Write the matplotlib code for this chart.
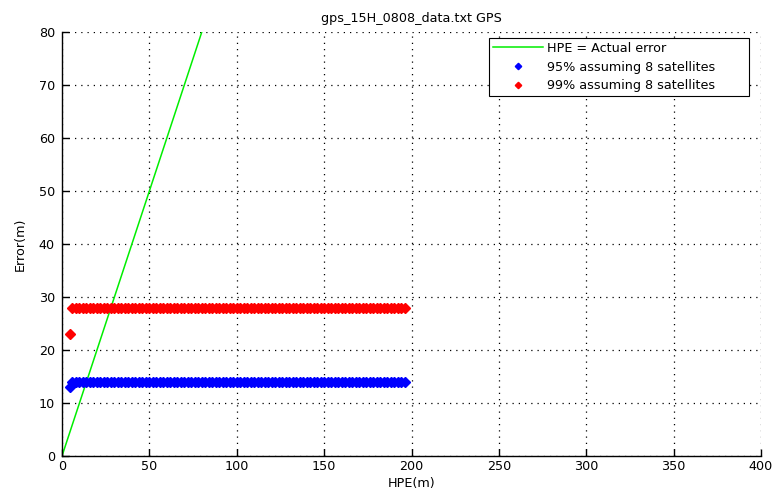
import matplotlib
matplotlib.use("Agg")
import matplotlib.pyplot as plt

plt.rcParams['font.family'] = ['DejaVu Sans']

title = "gps_15H_0808_data.txt GPS"
xlabel = "HPE(m)"
ylabel = "Error(m)"

line_x = [0, 80]
line_y = [0, 80]

hpe = [6, 8, 10, 12, 14, 16, 18, 20, 22, 24, 26, 28, 30, 32, 34, 36, 38, 40,
       42, 44, 46, 48, 50, 52, 54, 56, 58, 60, 62, 64, 66, 68, 70, 72, 74, 76,
       78, 80, 82, 84, 86, 88, 90, 92, 94, 96, 98, 100, 102, 104, 106, 108,
       110, 112, 114, 116, 118, 120, 122, 124, 126, 128, 130, 132, 134, 136,
       138, 140, 142, 144, 146, 148, 150, 152, 154, 156, 158, 160, 162, 164,
       166, 168, 170, 172, 174, 176, 178, 180, 182, 184, 186, 188, 190, 192,
       194, 196]
err95 = [14] * len(hpe)
err99 = [28] * len(hpe)
hpe_first = [4.5]
err95_first = [13]
err99_first = [23]

FS = 9.2

fig = plt.figure(figsize=(7.76, 4.95), dpi=100)
ax = fig.add_axes([0.0799, 0.0788, 0.9008, 0.8566])

ax.plot(line_x, line_y, color='#00ee00', lw=1.1, label='HPE = Actual error')
ax.plot(hpe_first + hpe, err95_first + err95, ls='none', marker='D', ms=5,
        color='#0000ff', mec='#0000ff', label='95% assuming 8 satellites')
ax.plot(hpe_first + hpe, err99_first + err99, ls='none', marker='D', ms=5,
        color='#ff0000', mec='#ff0000', label='99% assuming 8 satellites')

ax.set_xlim(0, 400)
ax.set_ylim(0, 80)
ax.set_xticks(range(0, 401, 50))
ax.set_yticks(range(0, 81, 10))
ax.grid(True, color='black', ls=(0, (1, 4)), lw=0.9)
ax.tick_params(direction='in', length=5, width=1, labelsize=FS, colors='black')
ax.tick_params(axis='x', pad=3)
ax.tick_params(axis='y', pad=5)
for s in ['top', 'right']:
    ax.spines[s].set_visible(False)
for s in ['left', 'bottom']:
    ax.spines[s].set_linewidth(1)

ax.set_title(title, fontsize=FS, pad=7)
ax.set_xlabel(xlabel, fontsize=FS, labelpad=3)
ax.set_ylabel(ylabel, fontsize=FS, labelpad=9)

leg = ax.legend(loc='upper left', bbox_to_anchor=(0.6109, 0.849, 0.3719, 0.1368),
                mode='expand', fontsize=FS, fancybox=False, framealpha=1,
                edgecolor='black', borderaxespad=0, handlelength=3.9,
                handletextpad=0.3, markerscale=0.65, borderpad=0.3,
                labelspacing=0.45)
leg.get_frame().set_linewidth(0.8)

fig.savefig("out.png", dpi=100)
